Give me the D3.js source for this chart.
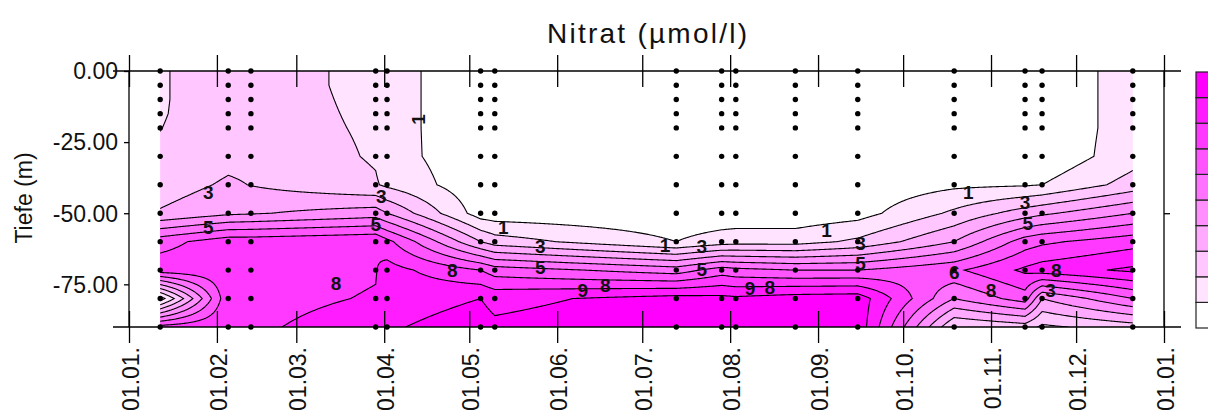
<!DOCTYPE html>
<html><head><meta charset="utf-8">
<script src="https://cdn.jsdelivr.net/npm/d3@7"></script>
<style>
body{margin:0;background:#fff;}
svg{display:block;}
text{font-family:Arial,"Liberation Sans",sans-serif;fill:#111;}
</style>
</head><body>
<svg id="chart" width="1208" height="412"></svg>
<script>
// ---------------- data ----------------
const chartTitle = "Nitrat (µmol/l)";
const yAxisTitle = "Tiefe (m)";

const stationDates = ["2001-01-12","2001-02-05","2001-02-13","2001-03-29","2001-04-02",
  "2001-05-05","2001-05-10","2001-07-13","2001-07-29","2001-08-03","2001-08-24",
  "2001-09-15","2001-10-19","2001-11-13","2001-11-19","2001-12-21"];
const sampleDepths = [0,5,10,15,20,30,40,50,60,70,80,90];

// nitrate (µmol/l) per station, at sampleDepths
const st01 = [1.9,1.9,1.9,1.92,1.98,2.15,2.5,3.1,6.6,7.6,0.5,7.4];
const st02 = [2.6,2.6,2.6,2.6,2.6,2.7,3.15,3.8,7.6,7.7,7.8,7.9];
const st03 = [2.5,2.5,2.5,2.5,2.5,2.7,2.97,3.9,7.6,7.7,7.8,7.9];
const st04 = [1.7,1.7,1.75,1.8,1.85,1.9,2.1,4.5,7.9,7.95,8.05,8.3];
const st05 = [1.4,1.4,1.4,1.4,1.4,1.42,1.8,4.0,7.3,8.4,8.6,8.9];
const st06 = [0.3,0.3,0.3,0.3,0.3,0.3,0.3,0.5,3.0,7.0,9.0,9.4];
const st07 = [0.3,0.3,0.3,0.3,0.3,0.3,0.3,0.4,2.5,6.5,8.7,9.2];
const st08 = [0.2,0.2,0.2,0.2,0.2,0.2,0.2,0.3,1.0,5.5,9.4,9.7];
const st09 = [0.2,0.2,0.2,0.2,0.2,0.2,0.2,0.3,1.5,6.5,9.3,9.7];
const st10 = [0.2,0.2,0.2,0.2,0.2,0.2,0.2,0.3,1.6,6.3,9.2,9.6];
const st11 = [0.2,0.2,0.2,0.2,0.2,0.2,0.2,0.3,1.6,6.0,9.5,9.7];
const st12 = [0.2,0.2,0.2,0.2,0.2,0.2,0.3,0.6,2.2,6.0,9.6,9.7];
const st13 = [0.2,0.2,0.2,0.2,0.2,0.2,0.8,2.2,4.0,6.8,5.0,2.0];
const st14 = [0.2,0.2,0.2,0.2,0.2,0.2,0.9,3.5,6.5,8.2,6.5,2.5];
const st15 = [0.2,0.2,0.2,0.2,0.2,0.2,1.0,3.8,6.8,8.5,4.0,1.8];
const st16 = [1.5,1.5,1.5,1.5,1.5,1.6,2.4,5.0,7.6,9.2,6.0,2.5];
const stationValues = [st01,st02,st03,st04,st05,st06,st07,st08,st09,st10,st11,st12,st13,st14,st15,st16];

const contourLevels = [1,2,3,4,5,6,7,8,9];
const legendSteps = [0,1,2,3,4,5,6,7,8,9];

const depthTickValues = [0,-25,-50,-75];
const depthTickLabels = ["0.00","-25.00","-50.00","-75.00"];
const monthTickDates = ["2001-01-01","2001-02-01","2001-03-01","2001-04-01","2001-05-01","2001-06-01",
  "2001-07-01","2001-08-01","2001-09-01","2001-10-01","2001-11-01","2001-12-01","2002-01-01"];
const monthTickLabels = ["01.01.","01.02.","01.03.","01.04.","01.05.","01.06.","01.07.",
  "01.08.","01.09.","01.10.","01.11.","01.12.","01.01."];

// contour labels: date, depth, text
const labelDates  = ["2001-04-13","2001-01-29","2001-01-29","2001-03-15","2001-03-31","2001-03-29",
  "2001-05-13","2001-05-26","2001-05-26","2001-04-25","2001-06-10","2001-06-18","2001-07-09",
  "2001-07-22","2001-07-22","2001-08-08","2001-08-15","2001-09-04","2001-09-16","2001-09-16",
  "2001-10-24","2001-10-19","2001-11-01","2001-11-13","2001-11-14","2001-11-24","2001-11-22"];
const labelDepths = [17,42.5,54.9,74.5,44,53.8,54.8,61.5,69,70,77,75.3,61.2,61.5,69.5,76.3,76,56,60.5,67.5,
  42.5,70.7,77,46,53.5,70,77];
const labelTexts  = ["1","3","5","8","3","5","1","3","5","8","9","8","1","3","5","9","8","1","3","5",
  "1","6","8","3","5","8","3"];

// ---------------- drawing ----------------
const svg = d3.select("#chart");
const parse = d3.utcParse("%Y-%m-%d");
const t0 = parse("2001-01-01"), t1 = parse("2002-01-01");
const x = d3.scaleUtc().domain([t0, t1]).range([129, 1164]);
const y = d3.scaleLinear().domain([0, -90]).range([71, 327]);

const DAY = 864e5;
const dayOf = d => (d - t0) / DAY;
const stDays = stationDates.map(s => dayOf(parse(s)));
const nS = stDays.length;

function bracket(arr, v) {
  if (v <= arr[0]) return [0, 0, 0];
  if (v >= arr[arr.length-1]) return [arr.length-1, arr.length-1, 0];
  const i = d3.bisectRight(arr, v) - 1;
  const f = (v - arr[i]) / (arr[i+1] - arr[i]);
  return [i, i+1, f];
}
function field(day, depth) {
  const [i0,i1,fx] = bracket(stDays, day);
  const [j0,j1,fy] = bracket(sampleDepths, depth);
  const a = stationValues[i0][j0]*(1-fy) + stationValues[i0][j1]*fy;
  const b = stationValues[i1][j0]*(1-fy) + stationValues[i1][j1]*fy;
  return a*(1-fx) + b*fx;
}

const gx0 = stDays[0] - 4, gdx = 0.5;
const gy0 = -3, gdy = 0.25;
const nx = Math.ceil((stDays[nS-1] + 4 - gx0)/gdx) + 1;
const ny = Math.ceil((93 - gy0)/gdy) + 1;
const grid = new Float64Array(nx*ny);
for (let j=0;j<ny;j++) for (let i=0;i<nx;i++) grid[j*nx+i] = field(gx0+i*gdx, gy0+j*gdy);

const proj = d3.geoTransform({point(cx, cy){
  const day = gx0 + (cx-0.5)*gdx, dep = gy0 + (cy-0.5)*gdy;
  this.stream.point(x(new Date(t0.getTime() + day*DAY)), y(-dep));
}});
const path = d3.geoPath(proj);

const colorOf = k => d3.interpolateRgb("#ffffff", "#ff00ff")(k/9);

const xS0 = x(parse(stationDates[0])), xS1 = x(parse(stationDates[nS-1]));
svg.append("clipPath").attr("id","dataclip").append("rect")
  .attr("x", xS0).attr("y", y(0)).attr("width", xS1-xS0).attr("height", y(-90)-y(0));

const plot = svg.append("g").attr("clip-path","url(#dataclip)");
plot.append("rect").attr("x", xS0).attr("y", y(0)).attr("width", xS1-xS0)
  .attr("height", y(-90)-y(0)).attr("fill", colorOf(0));
const contours = d3.contours().size([nx, ny]).thresholds(contourLevels)(grid);
plot.selectAll("path.fill").data(contours).join("path").attr("class","fill")
  .attr("d", path).attr("fill", d => colorOf(d.value)).attr("stroke","none");
plot.selectAll("path.line").data(contours).join("path").attr("class","line")
  .attr("d", path).attr("fill","none").attr("stroke","#000").attr("stroke-width",1.1);

// sample points
const pts = [];
stationDates.forEach(s => sampleDepths.forEach(dp => pts.push([parse(s), dp])));
svg.append("g").selectAll("circle").data(pts).join("circle")
  .attr("cx", d => x(d[0])).attr("cy", d => y(-d[1])).attr("r", 2.7).attr("fill","#000");

// contour labels
svg.append("g").selectAll("text").data(labelTexts.map((t,i)=>({t, d:parse(labelDates[i]), dp:labelDepths[i], i})))
  .join("text")
  .attr("transform", d => `translate(${x(d.d)},${y(-d.dp)})` + (d.i===0 ? " rotate(-90)" : ""))
  .attr("text-anchor","middle").attr("dy","0.36em")
  .attr("font-size", 19).attr("font-weight","bold").attr("fill","#000")
  .text(d => d.t);

// axes
const monthDates = monthTickDates.map(parse);
const ax = svg.append("g").attr("stroke","#000").attr("stroke-width",1.3);
const line = (x1,y1,x2,y2) => ax.append("line").attr("x1",x1).attr("y1",y1).attr("x2",x2).attr("y2",y2);
line(113, y(0), 1181, y(0));
line(113, y(-90), 1181, y(-90));

function styleAxis(g){ g.select(".domain").remove(); g.selectAll("line").attr("stroke","#000").attr("stroke-width",1.3); }
svg.append("g").attr("transform",`translate(0,${y(0)})`)
  .call(d3.axisTop(x).tickValues(monthDates).tickSize(16).tickFormat("")).call(styleAxis);
svg.append("g").attr("transform",`translate(0,${y(0)})`)
  .call(d3.axisBottom(x).tickValues(monthDates).tickSize(16).tickFormat("")).call(styleAxis);
svg.append("g").attr("transform",`translate(0,${y(-90)})`)
  .call(d3.axisTop(x).tickValues(monthDates).tickSize(16).tickFormat("")).call(styleAxis);
svg.append("g").attr("transform",`translate(0,${y(-90)})`)
  .call(d3.axisBottom(x).tickValues(monthDates).tickSize(16).tickFormat("")).call(styleAxis);
line(x(t0), y(0), x(t0), y(-90));
line(x(t1), y(0), x(t1), y(-90));

svg.append("g").attr("transform",`translate(${x(t0)},0)`)
  .call(d3.axisLeft(y).tickValues(depthTickValues).tickSize(5).tickFormat(""))
  .call(styleAxis);
svg.append("g").attr("transform",`translate(${x(t1)},0)`)
  .call(d3.axisRight(y).tickValues([-50]).tickSize(6).tickFormat(""))
  .call(styleAxis);

// y tick labels
svg.append("g").selectAll("text").data(depthTickValues).join("text")
  .attr("x", 118).attr("y", d => y(d)).attr("dy","0.36em").attr("text-anchor","end")
  .attr("font-size", 23).text((d,i) => depthTickLabels[i]);

// x tick labels
svg.append("g").selectAll("text").data(monthDates).join("text")
  .attr("transform", d => `translate(${x(d)+10},347) rotate(-90)`)
  .attr("text-anchor","end").attr("font-size", 23).text((d,i) => monthTickLabels[i]);

// titles
svg.append("text").attr("x", 547).attr("y", 43).attr("font-size", 28)
  .attr("textLength", 200).attr("lengthAdjust","spacing").text(chartTitle);
svg.append("text").attr("transform","translate(32,198) rotate(-90)").attr("text-anchor","middle")
  .attr("font-size", 23).text(yAxisTitle);

// legend (colour bar)
const ly = d3.scaleBand().domain(legendSteps.slice().reverse()).range([72, 328]);
svg.append("g").selectAll("rect").data(legendSteps).join("rect")
  .attr("x", 1196).attr("y", d => ly(d)).attr("width", 24).attr("height", ly.bandwidth())
  .attr("fill", d => colorOf(d)).attr("stroke","#222").attr("stroke-width",1.2);
</script>
</body></html>
